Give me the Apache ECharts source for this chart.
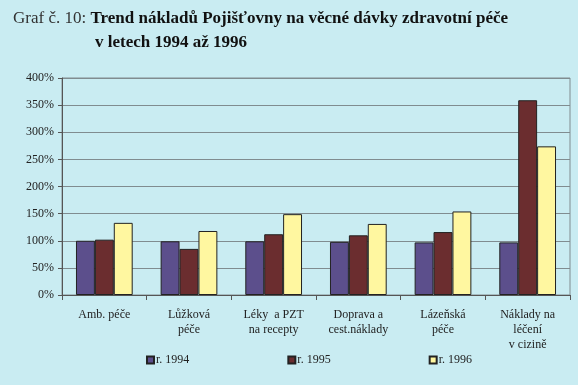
<!DOCTYPE html>
<html><head><meta charset="utf-8">
<style>html,body{margin:0;padding:0;background:#c9ecf2;}#c{width:578px;height:385px;}</style>
<script src="https://cdn.jsdelivr.net/npm/echarts@6/dist/echarts.min.js"></script>
</head><body><div id="c"></div>
<script>
const categories = ['Amb. péče', 'Lůžková\npéče', 'Léky  a PZT\nna recepty', 'Doprava a\ncest.náklady', 'Lázeňská\npéče', 'Náklady na\nléčení\nv cizině'];
const seriesNames = ['r. 1994', 'r. 1995', 'r. 1996'];
const v1994 = [100, 99, 99, 98, 97, 97];
const v1995 = [102, 85, 112, 110, 116, 359];
const v1996 = [133, 118, 149, 131, 154, 274];
const colors = ['#5c4f8c', '#6b2d2f', '#fff7a0'];
const yTicks = [0, 400, 50];

const chart = echarts.init(document.getElementById('c'), null, {renderer: 'canvas'});
const serif = '"Liberation Serif","DejaVu Serif",serif';
const data = [v1994, v1995, v1996];
chart.setOption({
  backgroundColor: '#c9ecf2',
  animation: false,
  title: [
    {left: 8, top: 5, text: '{a|Graf č. 10: }{b|Trend nákladů Pojišťovny na věcné dávky zdravotní péče}',
     textStyle: {rich: {
       a: {fontFamily: serif, fontSize: 17, color: '#333', fontWeight: 'normal'},
       b: {fontFamily: serif, fontSize: 17, color: '#111', fontWeight: 'bold'}}}},
    {left: 90, top: 29, text: 'v letech 1994 až 1996',
     textStyle: {fontFamily: serif, fontSize: 17, color: '#111', fontWeight: 'bold'}}
  ],
  grid: {left: 62, right: 8, top: 78, bottom: 90, show: true, borderColor: '#808c90', borderWidth: 1, backgroundColor: 'transparent'},
  legend: {
    bottom: 14, left: 141, itemGap: 98, itemWidth: 7, itemHeight: 7,
    icon: 'rect', data: seriesNames,
    textStyle: {fontFamily: serif, fontSize: 12, color: '#222', padding: [0,0,0,-3]}
  },
  xAxis: {
    type: 'category', data: categories,
    axisLine: {lineStyle: {color: '#555'}},
    axisTick: {show: true, lineStyle: {color: '#555'}},
    axisLabel: {fontFamily: serif, fontSize: 12, color: '#222', lineHeight: 15, margin: 12, interval: 0}
  },
  yAxis: {
    type: 'value', min: yTicks[0], max: yTicks[1], interval: yTicks[2],
    axisLine: {show: true, lineStyle: {color: '#555'}},
    axisTick: {show: true, length: 4, inside: false, lineStyle: {color: '#555'}},
    splitLine: {lineStyle: {color: '#808c90'}},
    axisLabel: {fontFamily: serif, fontSize: 12, color: '#222', formatter: '{value}%', margin: 8}
  },
  series: seriesNames.map((n, i) => ({
    name: n, type: 'bar', data: data[i], barGap: '0%', barCategoryGap: '33%',
    itemStyle: {color: colors[i], borderColor: '#222', borderWidth: 1}
  }))
});
</script></body></html>
